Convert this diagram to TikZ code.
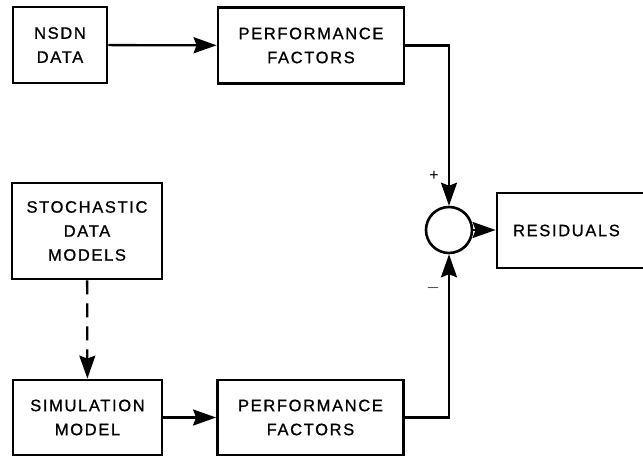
\documentclass[tikz,border=0pt]{standalone}
\usepackage{fontspec}
\setmainfont{Liberation Sans}[LetterSpace=10,BoldFont=Liberation Sans,BoldFeatures={FakeBold=1}]
\usetikzlibrary{arrows.meta}

\begin{document}
\begin{tikzpicture}[x=1pt,y=-1pt,
    blk/.style={draw,line width=2.8pt,minimum width=186pt,minimum height=76pt,
        align=center,font=\fontsize{16.5}{24}\selectfont\bfseries},
    sumpt/.style={draw,circle,line width=2.6pt,minimum size=46pt,inner sep=0pt},
    flow/.style={line width=2.3pt,-{Stealth[length=23pt,width=16pt,inset=3pt]}},
    sgn/.style={font=\fontsize{16}{18}\selectfont}]
\useasboundingbox (0,0) rectangle (643,457);

\node[blk,minimum width=94pt] (nsdn) at (60,45) {NSDN\\DATA};
\node[blk] (perfa) at (311,45.5) {PERFORMANCE\\FACTORS};
\node[blk,minimum width=150pt,minimum height=96pt] (stoch) at (87,231) {STOCHASTIC\\DATA\\MODELS};
\node[blk,minimum width=149pt,minimum height=75pt] (sim) at (87.5,417.5) {SIMULATION\\MODEL};
\node[blk,minimum height=75pt] (perfb) at (310.5,417.5) {PERFORMANCE\\FACTORS};
\node[sumpt] (sum) at (449,230) {};
\node[blk,minimum width=163pt,minimum height=75pt] (resid) at (578.5,230.5) {RESIDUALS\hspace*{24pt}};

\node[sgn] (plus) at (434,176) {+};
\node[sgn] (minus) at (433,288) {$-$};

\draw[flow] (nsdn) -- (perfa);
\draw[flow] (perfa.east) -| (sum.north);
\draw[flow] (sim) -- (perfb);
\draw[flow] (perfb.east) -| (sum.south);
\draw[flow] (sum) -- (resid.west |- sum);
\draw[flow,dash pattern=on 14pt off 9pt] (stoch) -- (sim);
\end{tikzpicture}
\end{document}
